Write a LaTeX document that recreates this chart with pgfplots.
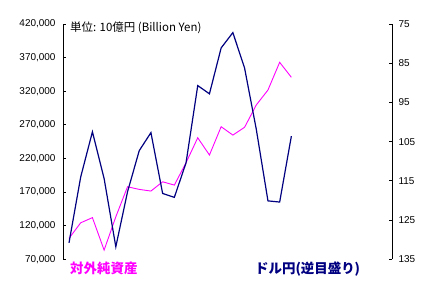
\documentclass[border=0pt]{standalone}
\usepackage{fontspec}
\setmainfont{Liberation Sans}
\newfontfamily\cjk{Noto Sans CJK JP}
\usepackage{pgfplots}
\pgfplotsset{compat=1.18}
\definecolor{navyb}{HTML}{000080}
\definecolor{mag}{HTML}{FF00FF}

\pgfplotstableread{
x nfa
0 101100
1 124300
2 132000
3 83700
4 133250
5 177900
6 174000
7 171500
8 185300
9 180400
10 213600
11 250800
12 225100
13 267200
14 254800
15 266300
16 299500
17 321800
18 363000
19 340700
}\nfa

\pgfplotstableread{
x fx
0 130.8
1 114.0
2 102.5
3 114.4
4 131.8
5 117.8
6 107.3
7 102.7
8 118.2
9 119.2
10 110.4
11 90.7
12 92.8
13 81.1
14 77.2
15 86.2
16 101.8
17 120.1
18 120.4
19 103.6
}\fx

\begin{document}
\begin{tikzpicture}[x=1bp,y=1bp]
\path[use as bounding box] (0,0) rectangle (435,284);
\begin{axis}[
  at={(63bp,24.7bp)}, anchor=south west,
  width=329bp, height=235.3bp, scale only axis,
  xmin=-0.513, xmax=27.6,
  ymin=70000, ymax=420000,
  axis x line=none, axis y line*=left,
  axis line style={-, line width=0.9bp},
  scaled y ticks=false,
  ytick={70000,120000,170000,220000,270000,320000,370000,420000},
  yticklabels={{70,000},{120,000},{170,000},{220,000},{270,000},{320,000},{370,000},{420,000}},
  tick align=inside, major tick length=3bp,
  tick style={black, line width=0.9bp},
  yticklabel style={font=\fontsize{10}{12}\selectfont, xshift=-4bp},
  clip=false,
]
\addplot[mag, line width=0.9bp, no markers] table[x=x, y=nfa] {\nfa};
\end{axis}
\begin{axis}[
  at={(63bp,24.7bp)}, anchor=south west,
  width=329bp, height=235.3bp, scale only axis,
  xmin=-0.513, xmax=27.6,
  ymin=75, ymax=135, y dir=reverse,
  axis x line=none, axis y line*=right,
  axis line style={-, line width=0.9bp},
  scaled y ticks=false,
  ytick={75,85,95,105,115,125,135},
  yticklabels={75,85,95,105,115,125,135},
  tick align=inside, major tick length=3bp,
  tick style={black, line width=0.9bp},
  yticklabel style={font=\fontsize{10}{12}\selectfont, xshift=3bp},
  clip=false,
]
\addplot[navyb, line width=1.2bp, no markers] table[x=x, y=fx] {\fx};
\end{axis}
\node[anchor=west, inner sep=0pt] at (70,256) {\cjk\fontsize{11.5}{13}\selectfont 単位: 10億円 (Billion Yen)};
\node[anchor=west, inner sep=0pt, text=mag] at (70,16) {\cjk\bfseries\fontsize{13.5}{15}\selectfont 対外純資産};
\node[anchor=west, inner sep=0pt, text=navyb] at (255,15) {\cjk\bfseries\fontsize{13.5}{15}\selectfont ドル円(逆目盛り)};
\end{tikzpicture}
\end{document}
